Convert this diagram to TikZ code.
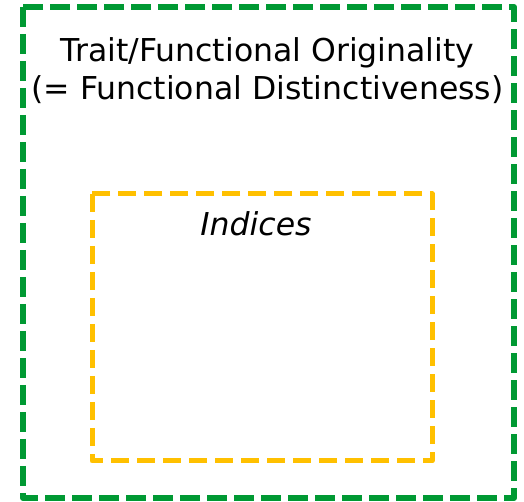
\documentclass[tikz,border=0pt]{standalone}
\usepackage{fontspec}
\setmainfont{DejaVu Sans}
\definecolor{boxgreen}{RGB}{0,153,51}
\definecolor{boxyellow}{RGB}{255,192,0}
\begin{document}
\begin{tikzpicture}[x=1pt,y=1pt,
  outerbox/.style={draw=boxgreen,line width=6pt,dash pattern=on 20pt off 7pt,line join=round},
  innerbox/.style={draw=boxyellow,line width=5pt,dash pattern=on 18pt off 8pt,line join=round},
  lbl/.style={font=\fontsize{31.5}{38}\selectfont,align=center,inner sep=0pt}]
\useasboundingbox (0,0) rectangle (524,502);
\draw[outerbox] (23,495) rectangle (514,4);
\draw[innerbox] (92,308) rectangle (432,41);
\node[lbl,anchor=base] (title) at (267.5,402) {Trait/Functional Originality\\(= Functional Distinctiveness)};
\node[lbl,anchor=base,font=\fontsize{31.5}{38}\selectfont\itshape] (idx) at (256,266) {Indices};
\end{tikzpicture}
\end{document}
